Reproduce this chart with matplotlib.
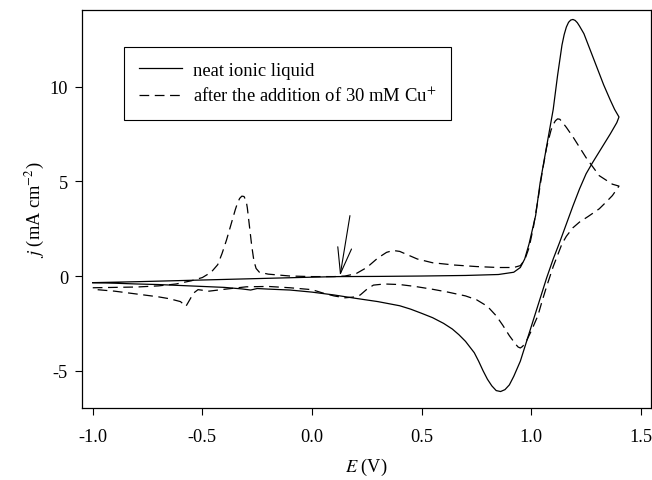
import matplotlib
matplotlib.use("Agg")
import matplotlib.pyplot as plt
from matplotlib.patches import ArrowStyle

plt.rcParams['font.family'] = ['Liberation Serif', 'DejaVu Serif']
plt.rcParams['mathtext.fontset'] = 'stix'
plt.rcParams['axes.unicode_minus'] = False
plt.rcParams['lines.scale_dashes'] = False

# ---- data: neat ionic liquid (solid), forward then reverse scan ----
neat_E = [-1.0, -0.8, -0.6, -0.4, -0.2, 0.0, 0.12, 0.3, 0.5, 0.7, 0.85, 0.92, 0.95,
          0.97, 0.99, 1.00, 1.02, 1.04, 1.06, 1.08, 1.10, 1.12, 1.14, 1.15, 1.16, 1.17,
          1.18, 1.19, 1.20, 1.21, 1.22, 1.24, 1.27, 1.30, 1.33, 1.36, 1.38, 1.395, 1.40,
          1.39, 1.36, 1.32, 1.28, 1.25, 1.22, 1.19, 1.16, 1.13, 1.10, 1.07, 1.04, 1.01,
          0.98, 0.95, 0.92, 0.90, 0.88, 0.86, 0.84, 0.82, 0.80, 0.78, 0.76, 0.74, 0.70,
          0.67, 0.64, 0.60, 0.55, 0.50, 0.45, 0.40, 0.30, 0.20, 0.10, 0.0, -0.1, -0.2,
          -0.25, -0.28, -0.32, -0.4, -0.5, -0.6, -0.7, -0.8, -0.9, -1.0]
neat_j = [-0.35, -0.3, -0.24, -0.18, -0.12, -0.06, -0.03, -0.02, 0.0, 0.03, 0.08, 0.2, 0.45,
          0.9, 1.7, 2.2, 3.2, 4.9, 6.2, 7.5, 8.8, 10.6, 12.2, 12.75, 13.15, 13.4,
          13.52, 13.55, 13.5, 13.38, 13.2, 12.8, 11.9, 11.0, 10.1, 9.3, 8.8, 8.5, 8.4,
          8.1, 7.5, 6.75, 6.0, 5.4, 4.6, 3.7, 2.75, 1.8, 0.9, -0.1, -1.2, -2.3,
          -3.4, -4.5, -5.3, -5.75, -6.0, -6.1, -6.05, -5.8, -5.45, -5.0, -4.5, -4.05, -3.45,
          -3.1, -2.8, -2.5, -2.2, -1.97, -1.75, -1.57, -1.35, -1.18, -1.0, -0.85, -0.74, -0.69,
          -0.66, -0.74, -0.68, -0.6, -0.55, -0.5, -0.45, -0.42, -0.38, -0.35]

# ---- data: after the addition of 30 mM Cu+ (dashed) ----
cu_E = [-1.0, -0.9, -0.8, -0.7, -0.62, -0.55, -0.5, -0.46, -0.43, -0.41, -0.39, -0.37,
        -0.35, -0.34, -0.33, -0.32, -0.31, -0.30, -0.295, -0.29, -0.285, -0.275, -0.265,
        -0.255, -0.24, -0.2, -0.1, 0.0, 0.1, 0.15, 0.2, 0.25, 0.30, 0.34, 0.37, 0.40,
        0.44, 0.48, 0.55, 0.65, 0.75, 0.85, 0.92, 0.95, 0.97, 0.99, 1.01, 1.03, 1.05,
        1.07, 1.09, 1.10, 1.11, 1.12, 1.13, 1.14, 1.16, 1.19, 1.25, 1.31, 1.37, 1.40,
        1.37, 1.345, 1.31, 1.26, 1.22, 1.19, 1.16, 1.14, 1.12, 1.10, 1.07, 1.05,
        1.03, 1.00, 0.975, 0.96, 0.95, 0.94, 0.93, 0.90, 0.87, 0.84, 0.80, 0.75, 0.70,
        0.62, 0.55, 0.47, 0.40, 0.33, 0.28, 0.25, 0.22, 0.2, 0.15, 0.1, 0.05, 0.0, -0.1,
        -0.2, -0.3, -0.4, -0.47, -0.5, -0.52, -0.54, -0.56, -0.575, -0.6, -0.65,
        -0.7, -0.8, -0.9, -1.0]
cu_j = [-0.62, -0.6, -0.58, -0.52, -0.42, -0.25, -0.08, 0.2, 0.6, 1.2, 1.9, 2.7,
        3.5, 3.85, 4.1, 4.22, 4.2, 3.95, 3.6, 3.1, 2.6, 1.6, 0.8,
        0.4, 0.2, 0.1, 0.0, -0.03, -0.03, 0.0, 0.12, 0.45, 0.95, 1.25, 1.35, 1.3,
        1.1, 0.9, 0.7, 0.58, 0.5, 0.45, 0.45, 0.55, 0.85, 1.5, 2.6, 4.0, 5.5,
        6.8, 7.7, 8.0, 8.2, 8.3, 8.28, 8.15, 7.85, 7.35, 6.25, 5.3, 4.85, 4.75,
        4.25, 3.95, 3.55, 3.15, 2.85, 2.55, 2.1, 1.7, 1.1, 0.5, -0.55, -1.3,
        -2.1, -2.9, -3.5, -3.72, -3.8, -3.75, -3.62, -3.15, -2.6, -2.1, -1.6, -1.25, -1.05,
        -0.85, -0.7, -0.55, -0.45, -0.42, -0.48, -0.7, -1.0, -1.1, -1.15, -1.05, -0.9, -0.72, -0.62,
        -0.55, -0.57, -0.7, -0.8, -0.75, -0.72, -0.9, -1.3, -1.6, -1.35, -1.2,
        -1.1, -0.95, -0.8, -0.7]

# arrow marking the start of the scan (tail, tip)
arrow_tail = (0.173, 3.19)
arrow_tip = (0.128, 0.02)

x_ticks = [-1.0, -0.5, 0.0, 0.5, 1.0, 1.5]
y_ticks = [-5, 0, 5, 10]

fig = plt.figure(figsize=(6.52, 4.81), dpi=100)
ax = fig.add_axes([82/652, 1-409/481, (651-82)/652, (409-11)/481])

ax.plot(neat_E, neat_j, color='black', lw=0.9, label='neat ionic liquid')
ax.plot(cu_E, cu_j, color='black', lw=0.9, linestyle=(0, (7, 4)),
        label=r'after the addition of 30 mM Cu$^{+}$')

ax.annotate('', xy=arrow_tip, xytext=arrow_tail,
            arrowprops=dict(arrowstyle=ArrowStyle('->', head_length=1.87, head_width=0.5),
                            mutation_scale=10, lw=0.8, color='black',
                            shrinkA=0, shrinkB=0))

ax.set_xlim(-1.049, 1.546)
ax.set_ylim(-6.97, 14.05)
ax.set_xticks(x_ticks)
ax.set_xticklabels([f"{v:.1f}" for v in x_ticks])
ax.set_yticks(y_ticks)
ax.set_yticklabels([str(v) for v in y_ticks])
ax.tick_params(direction='out', length=5, width=0.8, labelsize=13.2, colors='black')
ax.tick_params(axis='x', pad=9.5)
ax.tick_params(axis='y', pad=5)
for s in ax.spines.values():
    s.set_linewidth(0.9)
    s.set_color('black')

ax.set_xlabel(r'$E$ (V)', fontsize=13.2, labelpad=8)
ax.set_ylabel(r'$j$ (mA cm$^{-2}$)', fontsize=13.2, labelpad=2)

leg = ax.legend(loc='upper left', bbox_to_anchor=((124-82)/569, (409-48)/398),
                borderaxespad=0, fancybox=False, frameon=True, framealpha=1,
                edgecolor='black', fontsize=13.4, handlelength=2.35,
                handletextpad=0.6, borderpad=0.78, labelspacing=0.38)
leg.get_frame().set_linewidth(0.8)

fig.savefig('out.png', dpi=100)
